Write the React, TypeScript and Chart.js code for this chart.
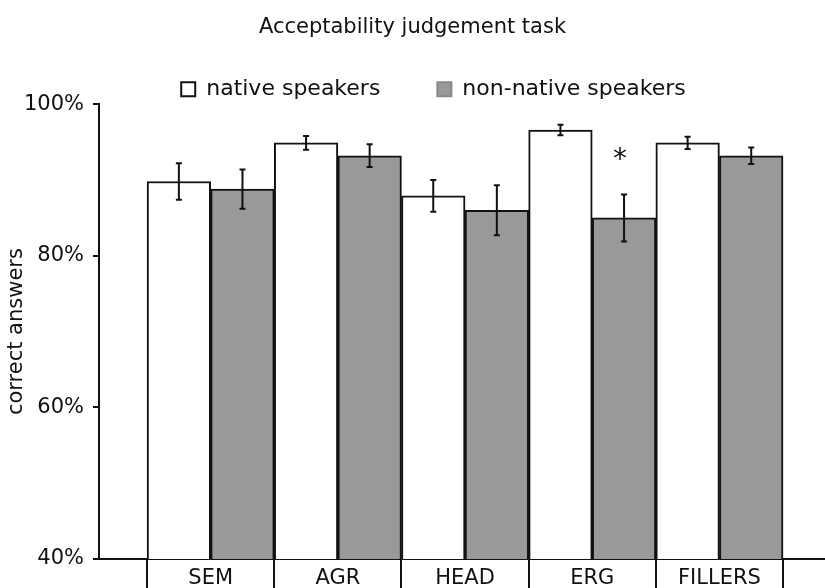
import React, { useEffect, useRef } from 'react';
import { Chart, registerables } from 'chart.js';

Chart.register(...registerables);

const chartTitle = 'Acceptability judgement task';
const yAxisTitle = 'correct answers';
const categories = ['SEM', 'AGR', 'HEAD', 'ERG', 'FILLERS'];
const seriesNames = ['native speakers', 'non-native speakers'];
const nativeValues = [89.8, 94.9, 87.9, 96.6, 94.9];
const nativeErrors = [2.4, 0.9, 2.1, 0.7, 0.8];
const nonNativeValues = [88.8, 93.2, 86.0, 85.0, 93.2];
const nonNativeErrors = [2.6, 1.5, 3.3, 3.1, 1.1];
const yTickValues = [40, 60, 80, 100];
const significanceMarks = [{ category: 'ERG', series: 1, text: '*', value: 92.6 }];

const FONT_FAMILY = '"DejaVu Sans", Verdana, sans-serif';
const FONT_SIZE = 21;
const LEGEND_FONT_SIZE = 22;
const INK = '#111111';
const GREY = '#999999';

export default function App() {
  const canvasRef = useRef<HTMLCanvasElement | null>(null);

  useEffect(() => {
    const canvas = canvasRef.current;
    if (!canvas) return;

    const errorSets = [nativeErrors, nonNativeErrors];

    const errorBarPlugin = {
      id: 'errorBars',
      afterDatasetsDraw(chart: any) {
        const ctx = chart.ctx;
        const yScale = chart.scales.y;
        ctx.save();
        ctx.strokeStyle = INK;
        ctx.lineWidth = 2;
        chart.data.datasets.forEach((ds: any, di: number) => {
          const meta = chart.getDatasetMeta(di);
          meta.data.forEach((el: any, i: number) => {
            const v = ds.data[i].y;
            const e = errorSets[di][i];
            const x = el.x;
            const yTop = yScale.getPixelForValue(v + e);
            const yBot = yScale.getPixelForValue(v - e);
            const cap = 3;
            ctx.beginPath();
            ctx.moveTo(x, yTop);
            ctx.lineTo(x, yBot);
            ctx.moveTo(x - cap, yTop);
            ctx.lineTo(x + cap, yTop);
            ctx.moveTo(x - cap, yBot);
            ctx.lineTo(x + cap, yBot);
            ctx.stroke();
          });
        });
        ctx.fillStyle = INK;
        ctx.font = `28px ${FONT_FAMILY}`;
        ctx.textAlign = 'center';
        ctx.textBaseline = 'middle';
        significanceMarks.forEach((m) => {
          const idx = categories.indexOf(m.category);
          const el = chart.getDatasetMeta(m.series).data[idx];
          if (!el) return;
          ctx.fillText(m.text, el.x - 4, yScale.getPixelForValue(m.value));
        });
        ctx.restore();
      },
    };

    const legendShiftPlugin = {
      id: 'legendShift',
      afterLayout(chart: any) {
        const lg = chart.legend;
        if (lg) {
          lg.left += 21;
          lg.right += 21;
        }
      },
    };

    const xTickValues: number[] = [];
    for (let i = 0; i <= categories.length; i++) {
      xTickValues.push(i - 0.5);
      if (i < categories.length) xTickValues.push(i);
    }

    const chart = new Chart(canvas, {
      type: 'bar',
      data: {
        datasets: [
          {
            label: seriesNames[0],
            data: nativeValues.map((v, i) => ({ x: i, y: v })),
            backgroundColor: '#ffffff',
            borderColor: INK,
            borderWidth: 2,
            barThickness: 'flex',
            barPercentage: 1,
            categoryPercentage: 1,
          },
          {
            label: seriesNames[1],
            data: nonNativeValues.map((v, i) => ({ x: i, y: v })),
            backgroundColor: GREY,
            borderColor: INK,
            borderWidth: 2,
            barThickness: 'flex',
            barPercentage: 1,
            categoryPercentage: 1,
          },
        ],
      },
      options: {
        animation: false,
        responsive: false,
        events: [],
        layout: { padding: 0 },
        scales: {
          x: {
            type: 'linear',
            offset: false,
            z: 1,
            min: -0.878,
            max: 4.83,
            afterBuildTicks: (s: any) => {
              s.ticks = xTickValues.map((v) => ({ value: v }));
            },
            afterFit: (s: any) => {
              s.height = 29;
            },
            ticks: {
              autoSkip: false,
              maxRotation: 0,
              padding: -22,
              color: INK,
              font: { family: FONT_FAMILY, size: FONT_SIZE },
              callback: (v: any) => (Number.isInteger(v) ? categories[v] : ''),
            },
            grid: {
              offset: false,
              drawOnChartArea: false,
              drawTicks: true,
              tickLength: 29,
              lineWidth: 2,
              color: (c: any) =>
                c.tick && Number.isInteger(c.tick.value) ? 'rgba(0,0,0,0)' : INK,
            },
            border: { color: INK, width: 2 },
          },
          y: {
            min: 40,
            max: 100,
            afterBuildTicks: (s: any) => {
              s.ticks = yTickValues.map((v) => ({ value: v }));
            },
            afterFit: (s: any) => {
              s.width = 99;
            },
            ticks: {
              padding: 9,
              color: INK,
              font: { family: FONT_FAMILY, size: FONT_SIZE },
              callback: (v: any) => `${v}%`,
            },
            grid: {
              drawOnChartArea: false,
              drawTicks: true,
              tickLength: 6,
              lineWidth: 2,
              color: INK,
            },
            border: { color: INK, width: 2 },
            title: {
              display: true,
              text: yAxisTitle,
              color: INK,
              font: { family: FONT_FAMILY, size: FONT_SIZE },
              padding: { top: 4, bottom: 0 },
            },
          },
        },
        plugins: {
          tooltip: { enabled: false },
          title: {
            display: true,
            text: chartTitle,
            color: INK,
            font: { family: FONT_FAMILY, size: FONT_SIZE, weight: 'normal' },
            padding: { top: 15, bottom: -19 },
          },
          legend: {
            display: true,
            position: 'top',
            maxHeight: 83,
            labels: {
              boxWidth: 14,
              boxHeight: 14,
              padding: 57,
              color: INK,
              font: { family: FONT_FAMILY, size: LEGEND_FONT_SIZE },
              generateLabels: (c: any) =>
                c.data.datasets.map((ds: any, i: number) => ({
                  text: ds.label,
                  fillStyle: ds.backgroundColor,
                  strokeStyle: i === 0 ? INK : '#888888',
                  lineWidth: 2,
                  hidden: false,
                  datasetIndex: i,
                  fontColor: INK,
                })),
            },
          },
        },
      } as any,
      plugins: [errorBarPlugin, legendShiftPlugin],
    });

    return () => {
      chart.destroy();
    };
  }, []);

  return (
    <div style={{ position: 'fixed', left: 0, top: 0, width: 825, height: 588, background: '#fff' }}>
      <canvas ref={canvasRef} width={825} height={588} style={{ display: 'block' }} />
    </div>
  );
}
